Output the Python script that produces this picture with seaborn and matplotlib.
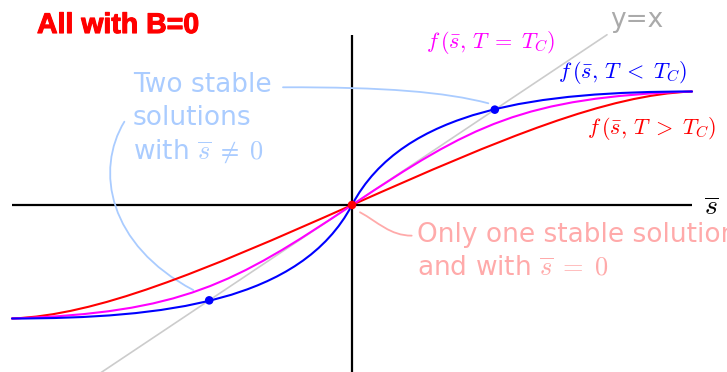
import matplotlib
matplotlib.use("Agg")
import matplotlib.pyplot as plt
import matplotlib.patheffects as pe
from matplotlib.path import Path
from matplotlib.patches import PathPatch
import seaborn as sns

# Self-consistency curves f(s, T) drawn as two-segment cubic Bezier control polygons
below_tc_s = [-2.0, -1.1, -0.3, 0.0, 0.3, 1.1, 2.0]
below_tc_f = [-1.0, -1.0, -0.85, 0.0, 0.85, 1.0, 1.0]
at_tc_s = [-2.0, -1.0, -0.7, 0.0, 0.7, 1.0, 2.0]
at_tc_f = [-1.0, -0.95, -0.7, 0.0, 0.7, 0.95, 1.0]
above_tc_s = [-2.0, -1.5, -0.9, 0.0, 0.9, 1.5, 2.0]
above_tc_f = [-1.0, -0.97, -0.6, 0.0, 0.6, 0.97, 1.0]

# Diagonal y = x and the fixed points
diag = [-1.5, 1.5]
stable_s = [-0.84, 0.84]
zero_s = [0.0]

# Axis extents
s_axis = [-2.0, 2.0]
f_axis = [-1.6, 1.5]

sns.set_style("white")
plt.rcParams["font.family"] = ["DejaVu Sans"]
plt.rcParams["mathtext.fontset"] = "cm"

fig = plt.figure(figsize=(7.27, 3.72), dpi=100)
ax = fig.add_axes([0, 0, 1, 1])
ax.set_xlim(-352 / 170, 375 / 170)
ax.set_ylim(-167 / 113.5, 205 / 113.5)
ax.axis("off")

BLUE, MAGENTA, RED = "#0000ff", "#ff00ff", "#ff0000"
LIGHT_BLUE, LIGHT_RED = "#aaccff", "#ffaaaa"

# coordinate axes
ax.plot(s_axis, [0, 0], color="black", lw=1.6, zorder=1, solid_capstyle="butt")
ax.plot([0, 0], f_axis, color="black", lw=1.6, zorder=1, solid_capstyle="butt")

# y = x
sns.lineplot(x=diag, y=diag, ax=ax, color="#cccccc", lw=1.2, zorder=2)


def bezier(xs, ys, color, lw, z):
    codes = [Path.MOVETO] + [Path.CURVE4] * (len(xs) - 1)
    patch = PathPatch(Path(list(zip(xs, ys)), codes), facecolor="none",
                      edgecolor=color, lw=lw, zorder=z, capstyle="round")
    ax.add_patch(patch)


# connectors from the annotations to the solutions
bezier([-0.406, 0.194, 0.547, 0.802], [1.037, 1.040, 0.996, 0.896], LIGHT_BLUE, 1.3, 3)
bezier([-1.339, -1.512, -1.435, -0.934], [0.734, 0.308, -0.352, -0.749], LIGHT_BLUE, 1.3, 3)
bezier([0.047, 0.153, 0.224, 0.351], [-0.064, -0.150, -0.270, -0.270], LIGHT_RED, 1.3, 3)

# f(s, T) curves
bezier(above_tc_s, above_tc_f, RED, 1.5, 4)
bezier(at_tc_s, at_tc_f, MAGENTA, 1.5, 5)
bezier(below_tc_s, below_tc_f, BLUE, 1.5, 6)

# fixed points
sns.scatterplot(x=stable_s, y=stable_s, ax=ax, color=BLUE, s=38, edgecolor="none", zorder=7)
sns.scatterplot(x=zero_s, y=zero_s, ax=ax, color=RED, s=38, edgecolor="none", zorder=7)

# labels
ax.text(-1.853, 1.577, "All with B=0", color=RED, fontsize=20.5, fontweight="bold",
        family="Liberation Sans", ha="left", va="center",
        path_effects=[pe.withStroke(linewidth=0.8, foreground=RED)])
ax.text(1.518, 1.63, "y=x", color="#aaaaaa", fontsize=19, ha="left", va="center")
ax.text(0.818, 1.436, r"$f\,(\bar{s},\, T \;=\; T_C)$", color=MAGENTA, fontsize=16,
        ha="center", va="center")
ax.text(1.594, 1.163, r"$f\,(\bar{s},\, T \;<\; T_C)$", color=BLUE, fontsize=16,
        ha="center", va="center")
ax.text(1.762, 0.678, r"$f\,(\bar{s},\, T \;>\; T_C)$", color=RED, fontsize=16,
        ha="center", va="center")
ax.text(2.112, -0.018, r"$\overline{s}$", color="black", fontsize=20,
        ha="center", va="center")
ax.text(-1.288, 1.170, "Two stable\nsolutions\nwith $\\overline{s} \\;\\neq\\; 0$",
        color=LIGHT_BLUE, fontsize=19, ha="left", va="top", linespacing=1.32)
ax.text(0.381, -0.150, "Only one stable solution\nand with $\\overline{s} \\;=\\; 0$",
        color=LIGHT_RED, fontsize=19, ha="left", va="top", linespacing=1.32)

fig.savefig("out.png", dpi=100)
